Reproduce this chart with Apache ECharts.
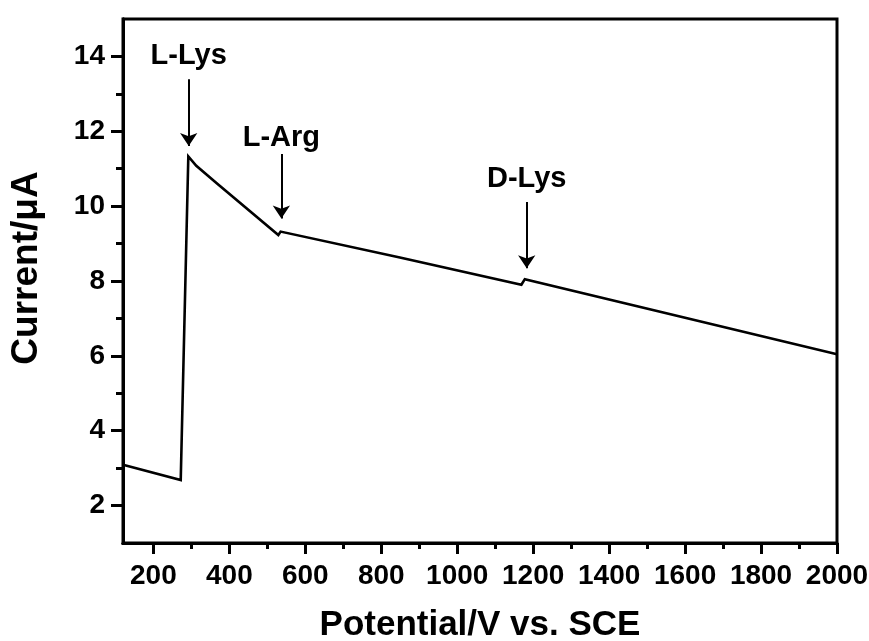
<!DOCTYPE html>
<html>
<head>
<meta charset="utf-8">
<script src="https://cdn.jsdelivr.net/npm/echarts@6/dist/echarts.min.js"></script>
<style>
html,body{margin:0;padding:0;background:#fff;}
#chart{width:869px;height:641px;}
</style>
</head>
<body>
<div id="chart"></div>
<script>
// Data
var potential = [120, 272, 292, 313, 366, 529, 535, 849, 1169, 1178, 2000];
var current   = [3.09, 2.68, 11.33, 11.08, 10.62, 9.23, 9.32, 8.63, 7.90, 8.05, 6.04];

var xMajorTicks = [200, 400, 600, 800, 1000, 1200, 1400, 1600, 1800, 2000];
var xMinorTicks = [300, 500, 700, 900, 1100, 1300, 1500, 1700, 1900];
var yMajorTicks = [2, 4, 6, 8, 10, 12, 14];
var yMinorTicks = [3, 5, 7, 9, 11, 13];

var annoLabels = ['L-Lys', 'L-Arg', 'D-Lys'];
var annoX      = [293, 537, 1183];
var arrowTop   = [13.39, 11.39, 10.11];
var arrowTip   = [11.61, 9.67, 8.34];
var labelY     = [14.0, 11.83, 10.73];

var FONT = '"Liberation Sans", Arial, sans-serif';
var chart = echarts.init(document.getElementById('chart'), null, {renderer: 'canvas'});

var grid = {
  left: 123, right: 32, top: 19, bottom: 98,
  containLabel: false, outerBoundsMode: 'none',
  show: true, borderColor: '#000', borderWidth: 3, backgroundColor: 'transparent'
};

function xAxisBase(extra) {
  return Object.assign({
    type: 'value', min: 120, max: 2000, gridIndex: 0,
    splitLine: {show: false},
    axisLine: {show: true, onZero: false, lineStyle: {color: '#000', width: 3}}
  }, extra);
}
function yAxisBase(extra) {
  return Object.assign({
    type: 'value', min: 1, max: 15, gridIndex: 0,
    splitLine: {show: false},
    axisLine: {show: true, onZero: false, lineStyle: {color: '#000', width: 3}}
  }, extra);
}

var arrowData = annoX.map(function (x, i) {
  return [{coord: [x, arrowTop[i]]}, {coord: [x, arrowTip[i]]}];
});
var labelData = annoX.map(function (x, i) {
  return {name: annoLabels[i], value: [x, labelY[i]]};
});

var option = {
  animation: false,
  backgroundColor: '#fff',
  grid: grid,
  xAxis: [
    xAxisBase({
      position: 'bottom',
      name: 'Potential/V vs. SCE',
      nameLocation: 'middle',
      nameGap: 65,
      nameTextStyle: {fontFamily: FONT, fontWeight: 'bold', fontSize: 35, color: '#000'},
      axisTick: {show: true, inside: false, length: 11, lineStyle: {color: '#000', width: 3}, customValues: xMajorTicks},
      axisLabel: {show: true, customValues: xMajorTicks, margin: 19, formatter: function (v) { return String(v); },
                  fontFamily: FONT, fontWeight: 'bold', fontSize: 28, color: '#000'}
    }),
    xAxisBase({
      position: 'bottom',
      axisTick: {show: true, inside: false, length: 6, lineStyle: {color: '#000', width: 3}, customValues: xMinorTicks},
      axisLabel: {show: false}
    })
  ],
  yAxis: [
    yAxisBase({
      position: 'left',
      name: 'Current/μA',
      nameLocation: 'middle',
      nameGap: 78,
      nameRotate: 90,
      nameTextStyle: {fontFamily: FONT, fontWeight: 'bold', fontSize: 37, color: '#000', padding: [0, 0, 0, 26]},
      axisTick: {show: true, inside: false, length: 12, lineStyle: {color: '#000', width: 3}, customValues: yMajorTicks},
      axisLabel: {show: true, customValues: yMajorTicks, margin: 18, formatter: function (v) { return String(v); },
                  fontFamily: FONT, fontWeight: 'bold', fontSize: 28, color: '#000'}
    }),
    yAxisBase({
      position: 'left',
      axisTick: {show: true, inside: false, length: 7, lineStyle: {color: '#000', width: 3}, customValues: yMinorTicks},
      axisLabel: {show: false}
    })
  ],
  series: [
    {
      type: 'line',
      xAxisIndex: 0, yAxisIndex: 0,
      data: potential.map(function (p, i) { return [p, current[i]]; }),
      showSymbol: false,
      symbol: 'none',
      lineStyle: {color: '#000', width: 2.6, join: 'miter'},
      z: 3,
      markLine: {
        silent: true,
        symbol: ['none', 'arrow'],
        symbolSize: 13,
        label: {show: false},
        itemStyle: {color: '#000'},
        lineStyle: {color: '#000', width: 2, type: 'solid'},
        emphasis: {disabled: true},
        data: arrowData
      }
    },
    {
      type: 'scatter',
      xAxisIndex: 0, yAxisIndex: 0,
      symbolSize: 0,
      silent: true,
      data: labelData,
      itemStyle: {color: '#000', opacity: 1},
      label: {
        show: true,
        position: 'inside',
        formatter: function (p) { return p.name; },
        fontFamily: FONT, fontWeight: 'bold', fontSize: 29, color: '#000',
        textBorderWidth: 0
      }
    }
  ]
};
chart.setOption(option);
</script>
</body>
</html>
